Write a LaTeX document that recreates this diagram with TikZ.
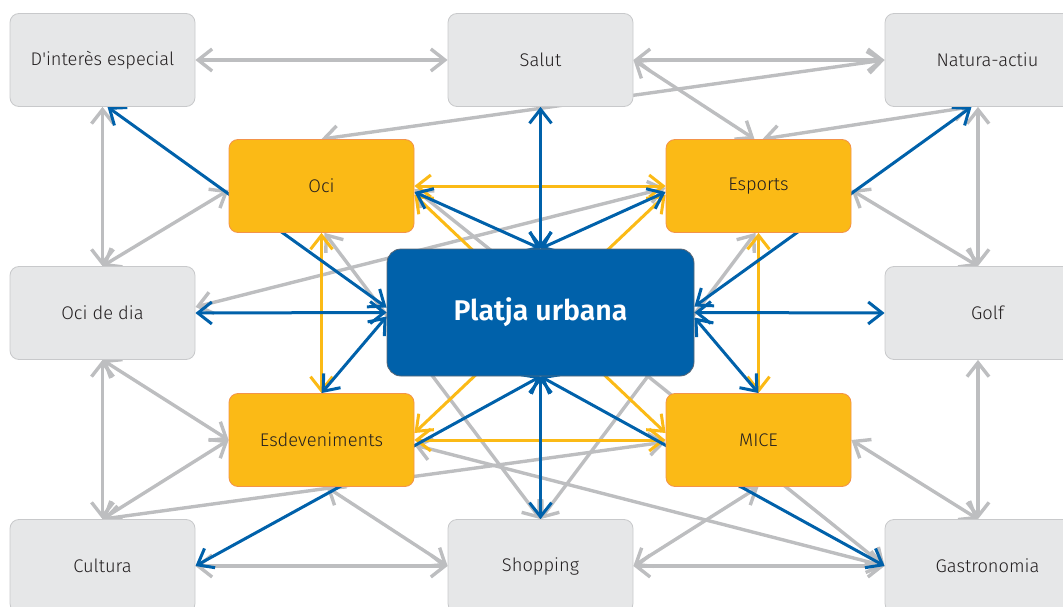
\documentclass[tikz,border=0pt]{standalone}
\usepackage{fontspec}
\setmainfont{Fira Sans}[Ligatures=TeXOff, UprightFont=* Light, BoldFont=* SemiBold]
\usetikzlibrary{arrows.meta,calc}
\definecolor{boxgray}{HTML}{E6E7E8}
\definecolor{boxgrayline}{HTML}{C8C9CB}
\definecolor{linegray}{HTML}{BDBEC0}
\definecolor{orfill}{HTML}{FBBA16}
\definecolor{orline}{HTML}{F3934A}
\definecolor{blu}{HTML}{0061AA}
\definecolor{bluline}{HTML}{5A6775}
\definecolor{txt}{HTML}{231F20}
\pgfdeclarelayer{bg}
\pgfsetlayers{bg,main}
\begin{document}
\begin{tikzpicture}[x=1pt,y=-1pt,
  graybox/.style={draw=boxgrayline, line width=0.8pt, fill=boxgray, rounded corners=9pt,
    minimum width=185pt, minimum height=93pt, inner sep=0pt, text=txt,
    font=\fontsize{18.3}{21}\selectfont},
  widebox/.style={graybox, minimum width=205pt},
  orbox/.style={draw=orline, line width=0.8pt, fill=orfill, rounded corners=9pt,
    minimum width=185pt, minimum height=93pt, inner sep=0pt, text=txt,
    font=\fontsize{18.3}{21}\selectfont},
  mainbox/.style={draw=bluline, line width=0.8pt, fill=blu, rounded corners=14pt,
    minimum width=307pt, minimum height=127pt, inner sep=0pt, text=white,
    font=\fontsize{28.5}{32}\selectfont\bfseries},
  tips/.style={{Straight Barb[length=14pt,width=22pt]}-{Straight Barb[length=14pt,width=22pt]}},
  gl/.style={draw=linegray, line width=3.4pt, tips},
  yl/.style={draw=orfill, line width=3pt, tips},
  bl/.style={draw=blu, line width=3pt, tips}
]
\useasboundingbox (0,0) rectangle (1063,607);

% nodes
\node[graybox] (dint) at (102.5,60) {D'interès especial};
\node[graybox] (salut) at (540.5,60) {Salut};
\node[widebox] (natura) at (987.5,60) {Natura-actiu};
\node[graybox] (ocidia) at (102.5,313) {Oci de dia};
\node[widebox] (golf) at (987.5,313) {Golf};
\node[graybox] (cultura) at (102.5,566) {Cultura};
\node[graybox] (shopping) at (540.5,566) {Shopping};
\node[widebox] (gastro) at (987.5,566) {Gastronomia};
\node[orbox] (oci) at (321.5,186) {Oci};
\node[orbox] (esports) at (758.5,186) {Esports};
\node[orbox] (esdev) at (321.5,440) {Esdeveniments};
\node[orbox] (mice) at (758.5,440) {MICE};
\node[mainbox] (platja) at (540.5,312.5) {Platja urbana};

\begin{pgfonlayer}{bg}
% gray connectors
\draw[gl] (dint.east) -- (salut.west);
\draw[gl] (salut.east) -- (natura.west);
\draw[gl] (natura.west) -- (oci.north);
\draw[gl] (salut.east) -- ($(esports.north)+(-4,0)$);
\draw[gl] ($(natura.south)+(-17,0)$) -- ($(esports.north)+(4,0)$);
\draw[gl] ($(natura.south)+(-9.5,0)$) -- ($(golf.north)+(-9.5,0)$);
\draw[gl] ($(esports.east)+(0,4)$) -- ($(golf.north)+(-9.5,0)$);
\draw[gl] (dint.south) -- (ocidia.north);
\draw[gl] ($(oci.west)+(0,4)$) -- (ocidia.north);
\draw[gl] ($(ocidia.east)+(0,-6)$) -- ($(esports.west)+(0,2)$);
\draw[gl] ($(oci.south)+(3,0)$) -- (shopping.north);
\draw[gl] ($(esports.south)+(-3,0)$) -- (shopping.north);
\draw[gl] ($(oci.east)+(0,3)$) -- (gastro.west);
\draw[gl] ($(esdev.east)+(0,5)$) -- (gastro.west);
\draw[gl] (cultura.north) -- ($(mice.west)+(0,2)$);
\draw[gl] (cultura.north) -- (esdev.west);
\draw[gl] (ocidia.south) -- (esdev.west);
\draw[gl] (ocidia.south) -- (cultura.north);
\draw[gl] ($(esdev.south)+(5,0)$) -- (shopping.west);
\draw[gl] (cultura.east) -- (shopping.west);
\draw[gl] (shopping.east) -- (gastro.west);
\draw[gl] (mice.south) -- (shopping.east);
\draw[gl] (mice.east) -- ($(gastro.north)+(-9.5,0)$);
\draw[gl] ($(golf.south)+(-9.5,0)$) -- ($(gastro.north)+(-9.5,0)$);
% yellow connectors
\draw[yl] (oci.east) -- (esports.west);
\draw[yl] (oci.south) -- (esdev.north);
\draw[yl] (esports.south) -- (mice.north);
\draw[yl] (esdev.east) -- (mice.west);
\draw[yl] ($(oci.east)+(0,9)$) -- ($(mice.west)+(0,-7)$);
\draw[yl] ($(esports.west)+(0,9)$) -- ($(esdev.east)+(0,-7)$);
% blue connectors
\draw[bl] (platja.north) -- (salut.south);
\draw[bl] (platja.north) -- ($(oci.east)+(0,6)$);
\draw[bl] (platja.north) -- ($(esports.west)+(0,6)$);
\draw[bl] ($(platja.west)+(0,-5)$) -- ($(dint.south)+(5,0)$);
\draw[bl] (platja.west) -- (ocidia.east);
\draw[bl] ($(platja.west)+(0,4)$) -- (esdev.north);
\draw[bl] (platja.south) -- (shopping.north);
\draw[bl] (platja.south) -- (cultura.east);
\draw[bl] (platja.south) -- (gastro.west);
\draw[bl] ($(platja.east)+(0,-6)$) -- ($(natura.south)+(-16,0)$);
\draw[bl] (platja.east) -- (golf.west);
\draw[bl] ($(platja.east)+(0,5)$) -- (mice.north);
\end{pgfonlayer}
\end{tikzpicture}
\end{document}
